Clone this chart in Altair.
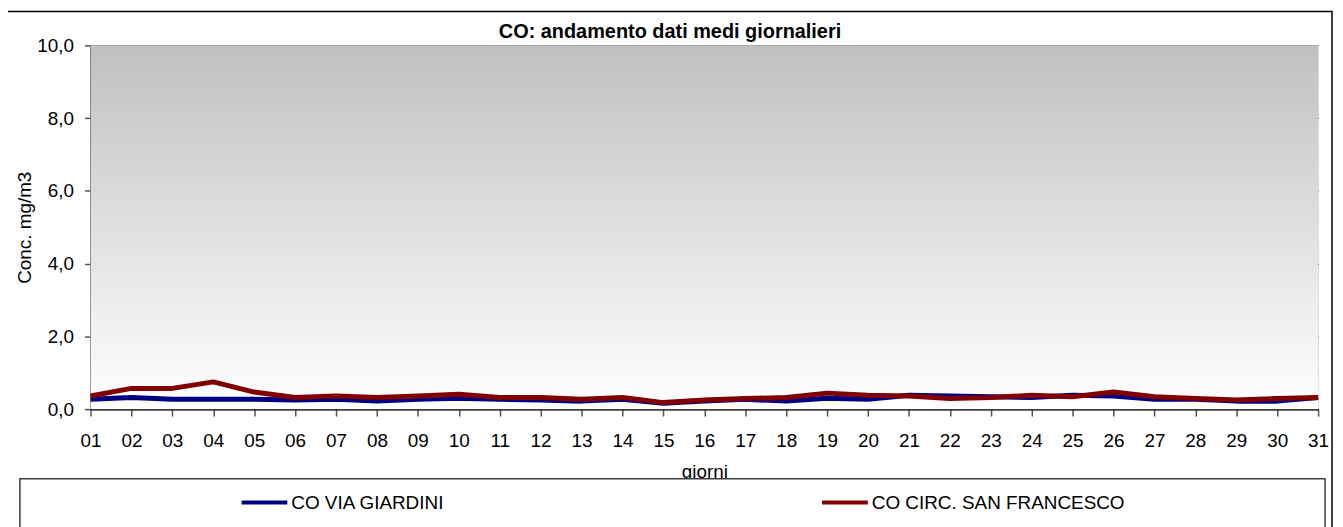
import altair as alt
import pandas as pd

days = [f"{d:02d}" for d in range(1, 32)]
via_giardini = [0.27, 0.32, 0.27, 0.27, 0.27, 0.25, 0.27, 0.22, 0.27, 0.30,
                0.27, 0.25, 0.22, 0.27, 0.16, 0.22, 0.27, 0.22, 0.30, 0.27,
                0.38, 0.36, 0.34, 0.32, 0.38, 0.36, 0.27, 0.27, 0.22, 0.22, 0.32]
san_francesco = [0.36, 0.57, 0.57, 0.75, 0.47, 0.32, 0.36, 0.32, 0.36, 0.41,
                 0.32, 0.32, 0.27, 0.32, 0.18, 0.25, 0.29, 0.32, 0.44, 0.38,
                 0.36, 0.29, 0.32, 0.38, 0.34, 0.47, 0.34, 0.29, 0.25, 0.29, 0.32]
series_names = ["CO VIA GIARDINI", "CO CIRC. SAN FRANCESCO"]
series_colors = ["#000080", "#800000"]
y_ticks = [0, 2, 4, 6, 8, 10]
chart_title = "CO: andamento dati medi giornalieri"

W, H = 1235, 366
FONT = "Liberation Sans"

rows = []
for name, vals in zip(series_names, [via_giardini, san_francesco]):
    for d, v in zip(days, vals):
        rows.append({"giorno": d, "valore": v, "serie": name})
df = pd.DataFrame(rows)

x_enc = alt.X("giorno:N", sort=days,
              scale=alt.Scale(type="point", padding=0),
              axis=alt.Axis(title="giorni", labelAngle=0, labelFontSize=19, labelFont=FONT,
                            labelColor="black", tickSize=7, tickColor="#555555", tickWidth=1.5,
                            labelPadding=16, domainColor="black", domainWidth=1.5, grid=False,
                            titleFont=FONT, titleFontSize=19, titleFontWeight="normal",
                            titleColor="black", titleY=69, titleBaseline="alphabetic"))
y_enc = alt.Y("valore:Q", scale=alt.Scale(domain=[0, 10], nice=False),
              axis=alt.Axis(title="Conc. mg/m3", values=y_ticks,
                            labelExpr="replace(format(datum.value, '.1f'), '.', ',')",
                            labelFontSize=19, labelFont=FONT, labelColor="black",
                            tickSize=6, tickColor="#555555", tickWidth=1.5, labelPadding=11,
                            domainColor="black", domainWidth=1.5,
                            grid=True, gridColor="#222222", gridWidth=1,
                            titleFont=FONT, titleFontSize=19, titleFontWeight="normal",
                            titleColor="black", titleX=-56, titleBaseline="bottom"))

one = pd.DataFrame({"a": [0]})

bg = alt.Chart(one).mark_rect(
    color=alt.LinearGradient(
        gradient="linear",
        stops=[alt.GradientStop(color="#c0c0c0", offset=0),
               alt.GradientStop(color="#ffffff", offset=1)],
        x1=0, x2=0, y1=0, y2=1)
).encode(x=alt.value(0), x2=alt.value(W), y=alt.datum(10), y2=alt.datum(0))

lines = alt.Chart(df).mark_line(strokeWidth=5, strokeJoin="round").encode(
    x=x_enc, y=y_enc,
    color=alt.Color("serie:N", sort=series_names,
                    scale=alt.Scale(domain=series_names, range=series_colors),
                    legend=alt.Legend(orient="none", legendX=150, legendY=435,
                                      direction="horizontal", title=None,
                                      symbolType="stroke", symbolSize=2116,
                                      symbolStrokeWidth=4, labelOffset=2,
                                      columnPadding=371, labelFontSize=19, labelLimit=500,
                                      labelFont=FONT, labelColor="black", padding=0)),
    order=alt.Order("serie:N", sort="descending"),
)

outer = alt.Chart(one).mark_rect(
    fillOpacity=0, stroke="black", strokeWidth=1.5
).encode(x=alt.value(-84), x2=alt.value(1249), y=alt.value(-34), y2=alt.value(520))

legend_box = alt.Chart(one).mark_rect(
    fill="white", stroke="#404040", strokeWidth=1.5
).encode(x=alt.value(-71), x2=alt.value(1242), y=alt.value(436), y2=alt.value(520))

title_txt = alt.Chart(one).mark_text(
    font=FONT, fontSize=20, fontWeight="bold", color="black",
    align="center", baseline="alphabetic"
).encode(x=alt.value(583), y=alt.value(-7), text=alt.value(chart_title))

chart = alt.layer(bg, lines, outer, legend_box, title_txt).properties(
    width=W, height=H,
    autosize=alt.AutoSizeParams(type="none"),
    padding={"left": 83, "top": 36, "right": 17, "bottom": 117},
).configure_view(stroke="#808080", strokeWidth=2).configure(background="white")

chart.save("out.html", embed_options={"renderer": "svg", "actions": False})
